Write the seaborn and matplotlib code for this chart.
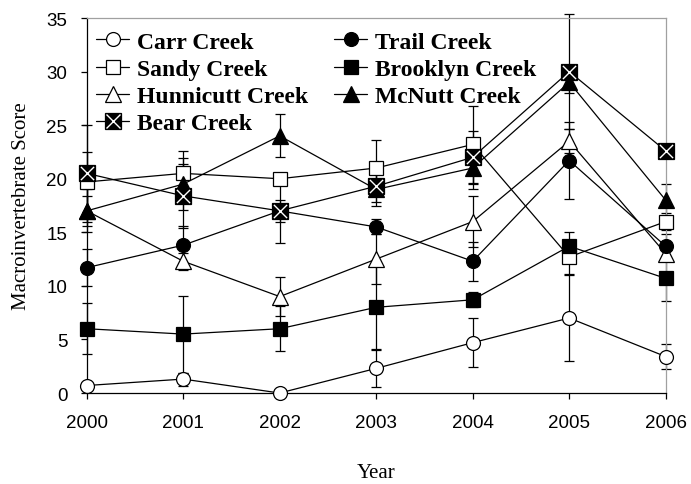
import matplotlib
matplotlib.use("Agg")
import matplotlib.pyplot as plt
from matplotlib.lines import Line2D
import seaborn as sns
import pandas as pd

years = [2000, 2001, 2002, 2003, 2004, 2005, 2006]
series_names = ["Carr Creek", "Sandy Creek", "Hunnicutt Creek", "Bear Creek",
                "Trail Creek", "Brooklyn Creek", "McNutt Creek"]

carr = [0.7, 1.3, 0.0, 2.3, 4.7, 7.0, 3.4]
carr_err = [0.3, 0.6, 0.0, 1.7, 2.3, 4.0, 1.2]
sandy = [19.7, 20.5, 20.0, 21.0, 23.2, 12.7, 16.0]
sandy_err = [2.8, 2.1, 0.5, 2.6, 3.6, 1.6, 0.8]
hunnicutt = [17.0, 12.3, 9.0, 12.5, 16.0, 23.5, 13.0]
hunnicutt_err = [2.0, 0.8, 1.8, 2.3, 2.4, 1.1, 0.6]
bear = [20.5, 18.4, 17.0, 19.3, 22.0, 30.0, 22.6]
bear_err = [4.5, 3.0, 3.0, 1.5, 2.5, 5.4, 0.5]
trail = [11.7, 13.8, 17.0, 15.5, 12.3, 21.7, 13.7]
trail_err = [1.7, 1.8, 1.0, 0.7, 1.8, 3.6, 1.1]
brooklyn = [6.0, 5.5, 6.0, 8.0, 8.7, 13.7, 10.7]
brooklyn_err = [2.4, 3.6, 2.1, 3.9, 0.7, 1.3, 2.1]
mcnutt = [17.0, 19.5, 24.0, 19.0, 21.0, 29.0, 18.0]
mcnutt_err = [1.4, 2.4, 2.0, 1.5, 2.0, 1.0, 1.5]

values = [carr, sandy, hunnicutt, bear, trail, brooklyn, mcnutt]
errors = [carr_err, sandy_err, hunnicutt_err, bear_err, trail_err, brooklyn_err, mcnutt_err]

# styles: (marker, facecolor, size)
styles = {
    "Carr Creek": ("o", "white", 10),
    "Sandy Creek": ("s", "white", 10),
    "Hunnicutt Creek": ("^", "white", 11),
    "Bear Creek": ("s", "black", 12),
    "Trail Creek": ("o", "black", 10),
    "Brooklyn Creek": ("s", "black", 10),
    "McNutt Creek": ("^", "black", 11),
}

rows = []
for name, vals in zip(series_names, values):
    for y, v in zip(years, vals):
        rows.append({"Year": y, "Score": v, "Creek": name})
df = pd.DataFrame(rows)

sns.set_style("ticks")
plt.rcParams["font.family"] = ["Liberation Sans", "DejaVu Sans"]
plt.rcParams["text.color"] = "black"
plt.rcParams["axes.labelcolor"] = "black"
plt.rcParams["xtick.color"] = "black"
plt.rcParams["ytick.color"] = "black"

fig = plt.figure(figsize=(6.91, 4.85), dpi=100)
ax = fig.add_axes([0.1255, 0.1876, 0.9634 - 0.1255, 0.9608 - 0.1876])

# error bars
for name, vals, errs in zip(series_names, values, errors):
    ax.errorbar(years, vals, yerr=errs, fmt="none", ecolor="black",
                elinewidth=0.9, capsize=3.5, capthick=0.9, zorder=2, clip_on=False)

# lines + markers via seaborn
for i, name in enumerate(series_names):
    marker, fc, ms = styles[name]
    sub = df[df["Creek"] == name]
    sns.lineplot(data=sub, x="Year", y="Score", ax=ax, color="black",
                 linewidth=0.9, marker=marker, markersize=ms,
                 markerfacecolor=fc, markeredgecolor="black", markeredgewidth=0.9,
                 zorder=3 + i, clip_on=False, legend=False)

# white X over Bear Creek squares
sub = df[df["Creek"] == "Bear Creek"]
sns.scatterplot(data=sub, x="Year", y="Score", ax=ax, marker="x", s=90,
                color="white", linewidth=1.0, zorder=20, clip_on=False, legend=False)

ax.set_xlim(2000, 2006)
ax.set_ylim(0, 35)
ax.set_xticks(years)
ax.set_yticks(range(0, 36, 5))
ax.tick_params(axis="both", direction="out", length=4, width=0.9, labelsize=13.5,
               colors="black", labelcolor="black")
ax.tick_params(axis="x", pad=11)
ax.tick_params(axis="y", pad=10)

for s in ["left", "bottom"]:
    ax.spines[s].set_color("black")
    ax.spines[s].set_linewidth(0.9)
for s in ["top", "right"]:
    ax.spines[s].set_visible(True)
    ax.spines[s].set_color("#a0a0a0")
    ax.spines[s].set_linewidth(0.9)

ax.set_xlabel("Year", family=["Liberation Serif"], fontsize=15, labelpad=23,
              color="black")
ax.set_ylabel("Macroinvertebrate Score", family=["Liberation Serif"], fontsize=15,
              labelpad=11, color="black")

# legend
handles = []
for name in series_names:
    marker, fc, ms = styles[name]
    h = Line2D([], [], color="black", linewidth=0.9, marker=marker, markersize=ms,
               markerfacecolor=fc, markeredgecolor="black", markeredgewidth=0.9)
    if name == "Bear Creek":
        hx = Line2D([], [], linestyle="none", marker="x", markersize=9.5,
                    color="white", markeredgewidth=1.0)
        h = (h, hx)
    handles.append(h)

leg = ax.legend(handles, series_names, ncol=2, loc="upper left",
                bbox_to_anchor=(0.0, 0.99), frameon=False,
                prop={"family": "Liberation Serif", "weight": "bold", "size": 17},
                handlelength=1.4, handletextpad=0.34, columnspacing=1.1,
                labelspacing=0.24, borderaxespad=0.0, borderpad=0.4)
for t in leg.get_texts():
    t.set_color("black")

fig.savefig("out.png", dpi=100)
